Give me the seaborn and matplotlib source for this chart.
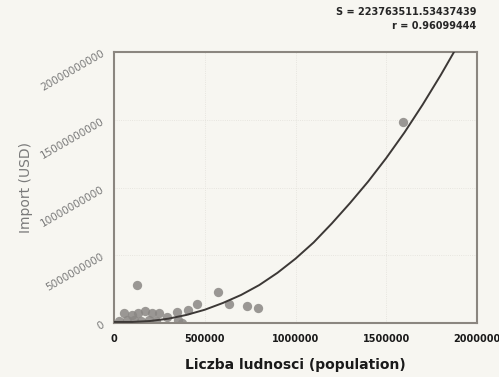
import numpy as np
import pandas as pd
import matplotlib.pyplot as plt
import seaborn as sns

# values
population = [55000, 97000, 128000, 134000, 171000, 208000, 250000, 345000, 410000,
              456000, 571000, 634000, 731000, 792000, 1592000,
              30000, 70000, 110000, 150000, 190000, 230000, 290000, 354000, 373000]
import_usd = [0.72e9, 0.59e9, 2.80e9, 0.76e9, 0.91e9, 0.72e9, 0.76e9, 0.83e9, 0.96e9,
              1.40e9, 2.31e9, 1.38e9, 1.25e9, 1.08e9, 14.8e9,
              0.15e9, 0.25e9, 0.20e9, 0.18e9, 0.22e9, 0.15e9, 0.47e9, 0.22e9, 0.02e9]

# fitted curve, read every 100000 along the drawn line
curve_x = [0, 100000, 200000, 300000, 400000, 500000, 600000, 700000, 800000, 900000,
           1000000, 1100000, 1200000, 1300000, 1400000, 1500000, 1600000, 1700000,
           1800000, 1873000]
curve_y = [0.08e9, 0.08e9, 0.15e9, 0.32e9, 0.60e9, 0.98e9, 1.48e9, 2.07e9, 2.80e9, 3.70e9,
           4.75e9, 5.95e9, 7.35e9, 8.85e9, 10.44e9, 12.18e9, 14.06e9, 16.11e9,
           18.30e9, 20.0e9]

x_ticks = [0, 500000, 1000000, 1500000, 2000000]
y_ticks = [0, 5000000000, 10000000000, 15000000000, 20000000000]
fit_s = "S = 223763511.53437439"
fit_r = "r = 0.96099444"

df = pd.DataFrame({"population": population, "import": import_usd})
curve = pd.DataFrame({"population": curve_x, "import": curve_y})

bg = "#f7f6f1"
sns.set_style("white")
plt.rcParams["font.family"] = ["DejaVu Sans"]

fig = plt.figure(figsize=(4.99, 3.77), dpi=100, facecolor=bg)
ax = fig.add_axes([0.2285, 0.1432, 0.7275, 0.7188])
ax.set_facecolor(bg)

sns.scatterplot(data=df, x="population", y="import", s=45, color="#8a8784",
                alpha=0.85, linewidth=0, ax=ax, zorder=2)
sns.lineplot(data=curve, x="population", y="import", color="#3c3836",
             linewidth=1.4, ax=ax, zorder=3)
ax.set_xlim(0, 2000000)
ax.set_ylim(0, 20000000000)

ax.set_xticks(x_ticks)
ax.set_xticklabels([str(v) for v in x_ticks], fontsize=7, fontweight="bold", color="#1a1a1a")
ax.set_yticks(y_ticks)
ax.set_yticklabels([str(v) for v in y_ticks], fontsize=7.5, color="#7a7a7a",
                   rotation=30, ha="right", rotation_mode="anchor")
ax.set_xticks(np.arange(0, 2000001, 100000), minor=True)
ax.set_yticks(np.arange(0, 20000000001, 1000000000), minor=True)
ax.tick_params(which="major", length=4, width=1.2, color="#8b8680", direction="out", pad=4)
ax.tick_params(which="minor", length=2.5, width=1, color="#8b8680", direction="out")
ax.grid(True, which="major", linestyle=":", linewidth=0.6, color="#e2e0da")

for sp in ax.spines.values():
    sp.set_color("#8b8680")
    sp.set_linewidth(1.5)

ax.set_xlabel("Liczba ludnosci (population)", fontsize=10, fontweight="bold", color="#1a1a1a", labelpad=10)
ax.set_ylabel("Import (USD)", fontsize=10, color="#7a7a7a", labelpad=4)

fig.text(0.954, 0.968, fit_s, ha="right", va="center", fontsize=7, fontweight="bold")
fig.text(0.954, 0.932, fit_r, ha="right", va="center", fontsize=7, fontweight="bold")

fig.savefig("out.png", dpi=100, facecolor=bg)
